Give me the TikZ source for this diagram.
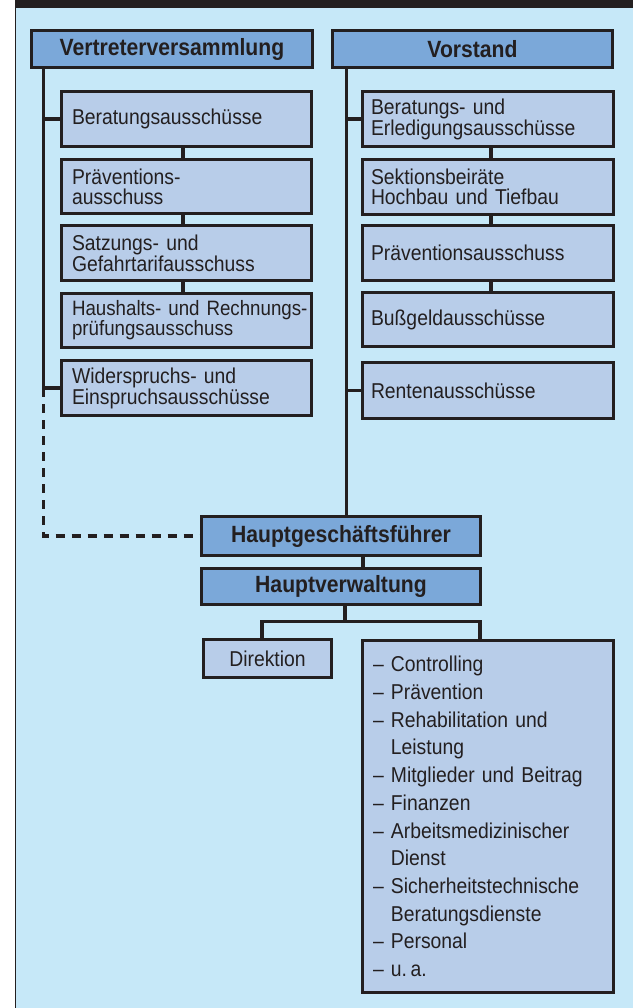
\documentclass[tikz,border=0pt]{standalone}
\usepackage{fontspec}
\setmainfont[FakeStretch=0.9]{Liberation Sans}
\definecolor{ink}{RGB}{35,31,32}
\definecolor{bgblue}{RGB}{198,232,248}
\definecolor{headblue}{RGB}{123,168,217}
\definecolor{subblue}{RGB}{184,205,233}
\begin{document}
\begin{tikzpicture}[x=1pt,y=-1pt,
  box/.style={draw=ink, line width=3pt, text=ink, inner ysep=0pt, outer sep=0pt,
    font=\fontsize{21.5}{19.8}\selectfont},
  headbox/.style={box, fill=headblue, minimum width=#1, minimum height=37pt,
    font=\bfseries\fontsize{23.5}{23.5}\selectfont},
  leftbox/.style={box, fill=subblue, text width=229pt, inner xsep=10.5pt, align=left, minimum height=#1},
  rightbox/.style={box, fill=subblue, text width=234pt, inner xsep=8.5pt, align=left, minimum height=#1},
  conn/.style={draw=ink, line width=3.3pt},
  dconn/.style={draw=ink, line width=3.5pt, dash pattern=on 9pt off 7pt}
]
\useasboundingbox (0,0) rectangle (633,1008);
% background
\fill[white] (0,0) rectangle (633,1008);
\fill[bgblue] (15,8.5) rectangle (633,1008);
\fill[ink] (14.5,0) rectangle (633,8.5);
\fill[ink] (14.5,0) rectangle (16,1008);

\node[headbox=281pt] (vv) at (172,49) {Vertreterversammlung};
\node[headbox=280pt] (vs) at (472.5,49) {Vorstand};

\node[leftbox=55pt] (l1) at (186.5,119) {Beratungsausschüsse};
\node[leftbox=54pt] (l2) at (186.5,186.5) {Präventions-\\ausschuss};
\node[leftbox=55pt] (l3) at (186.5,253) {Satzungs- und\\Gefahrtarifausschuss};
\node[leftbox=54pt, font=\fontsize{20.8}{19.8}\selectfont] (l4) at (186.5,320.5) {\makebox[229pt][l]{Haushalts- und Rechnungs-}\\prüfungsausschuss};
\node[leftbox=55pt] (l5) at (186.5,388) {Widerspruchs- und\\Einspruchsausschüsse};

\node[rightbox=55pt] (r1) at (488,119) {Beratungs- und\\Erledigungsausschüsse};
\node[rightbox=55pt] (r2) at (488,187) {Sektionsbeiräte\\Hochbau und Tiefbau};
\node[rightbox=55pt] (r3) at (488,253) {Präventionsausschuss};
\node[rightbox=54pt] (r4) at (488,319.5) {Bußgeldausschüsse};
\node[rightbox=56pt] (r5) at (488,390.5) {Rentenausschüsse};

\node[headbox=279pt, minimum height=39pt] (hgf) at (341,536) {Hauptgeschäftsführer};
\node[headbox=279pt, minimum height=36pt] (hv) at (341,586.5) {Hauptverwaltung};

\node[box, fill=subblue, minimum width=128pt, minimum height=38pt] (dir) at (267.5,658.5) {Direktion};
\node[box, fill=subblue, text width=230pt, inner xsep=10.5pt, align=left,
  minimum height=352pt, font=\fontsize{21.5}{27.7}\selectfont] (list) at (488,816.5)
  {– Controlling\\
   – Prävention\\
   – Rehabilitation und\\
   \phantom{– }Leistung\\
   – Mitglieder und Beitrag\\
   – Finanzen\\
   – Arbeitsmedizinischer\\
   \phantom{– }Dienst\\
   – Sicherheitstechnische\\
   \phantom{– }Beratungsdienste\\
   – Personal\\
   – u.\,a.};

% left trunk
\draw[conn] ([xshift=12pt]vv.south west) -- ([xshift=12pt]vv.south west |- l5.west) coordinate (lend);
\draw[conn] ([xshift=12pt]vv.south west |- l1.west) -- (l1.west);
\draw[conn] (lend) -- (l5.west);
\draw[dconn] (lend) |- (hgf.west);
% right trunk
\draw[conn] ([xshift=14pt]vs.south west) -- ([xshift=14pt]vs.south west |- hgf.north);
\draw[conn] ([xshift=14pt]vs.south west |- r1.west) -- (r1.west);
\draw[conn] ([xshift=14pt]vs.south west |- r5.west) -- (r5.west);
% chains
\draw[conn] ([xshift=-3.5pt]l1.south) -- ([xshift=-3.5pt]l2.north);
\draw[conn] ([xshift=-3.5pt]l2.south) -- ([xshift=-3.5pt]l3.north);
\draw[conn] ([xshift=-3.5pt]l3.south) -- ([xshift=-3.5pt]l4.north);
\draw[conn] ([xshift=3pt]r1.south) -- ([xshift=3pt]r2.north);
\draw[conn] ([xshift=3pt]r2.south) -- ([xshift=3pt]r3.north);
\draw[conn] ([xshift=3pt]r3.south) -- ([xshift=3pt]r4.north);
\draw[conn] ([xshift=22pt]hgf.south) -- ([xshift=22pt]hv.north);
% bottom split
\draw[conn] ([xshift=4pt]hv.south) -- ++(0,17) coordinate (bus);
\draw[conn, line join=miter] ([xshift=-5.5pt]dir.north) |- (bus) -| ([xshift=-8pt]list.north);
\end{tikzpicture}
\end{document}
